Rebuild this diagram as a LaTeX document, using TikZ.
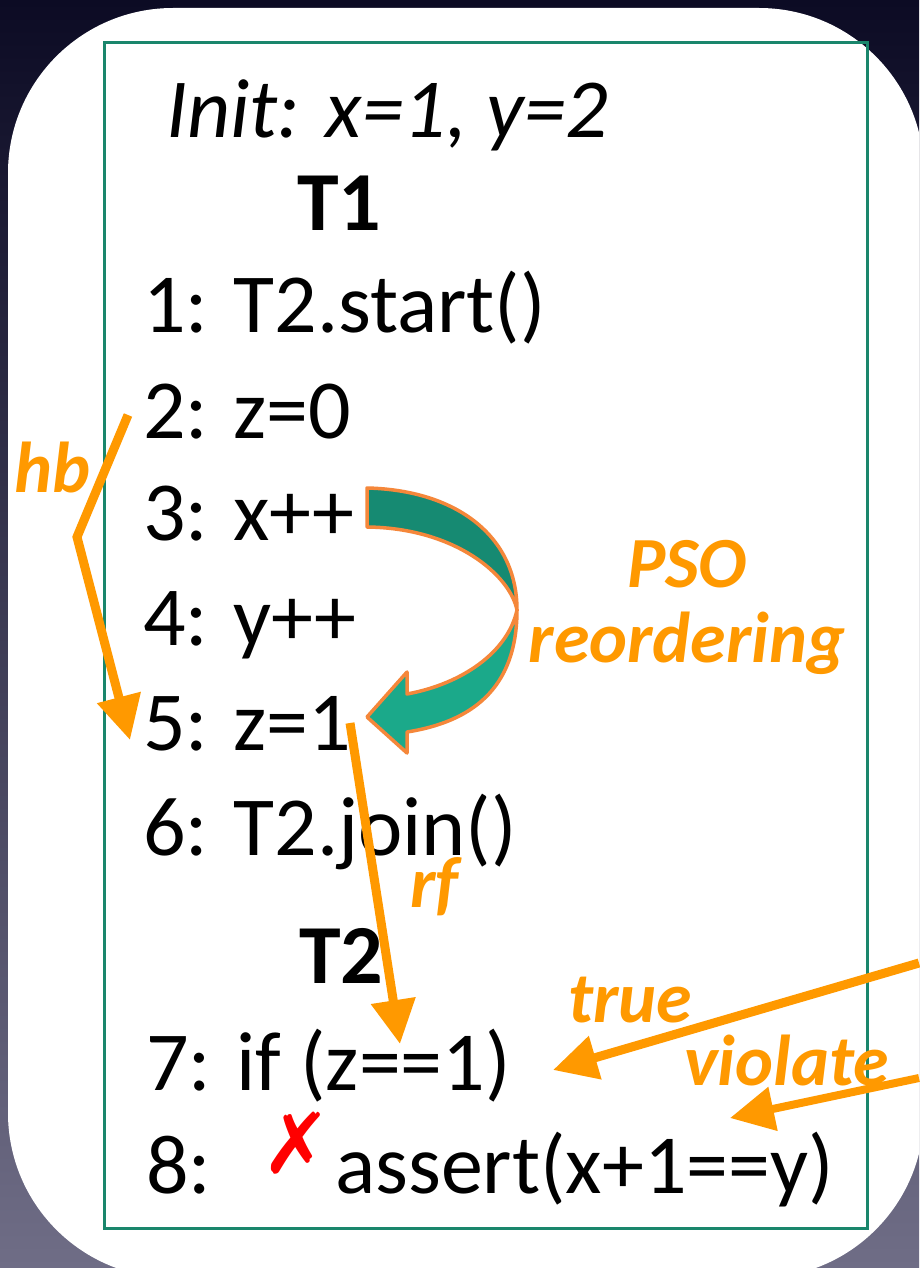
\documentclass[tikz,border=0pt]{standalone}
\usepackage{fontspec}
\setmainfont{Carlito}
\newfontfamily\crossfont{DejaVu Sans}
\usetikzlibrary{arrows.meta, calc}
\definecolor{slidetop}{RGB}{12,11,36}
\definecolor{slidebot}{RGB}{111,109,134}
\definecolor{framegreen}{RGB}{26,134,108}
\definecolor{hborange}{RGB}{255,153,0}
\definecolor{psodark}{RGB}{22,138,114}
\definecolor{psolight}{RGB}{27,169,138}
\definecolor{psoedge}{RGB}{245,135,58}

\begin{document}
\begin{tikzpicture}[
    x=1pt, y=-1pt,
    code/.style={anchor=base west, inner sep=0pt, font=\fontsize{84}{100}\selectfont},
    thread/.style={anchor=base west, inner sep=0pt, font=\fontsize{84}{100}\selectfont\bfseries},
    lbl/.style={anchor=base west, inner sep=0pt, text=hborange, font=\fontsize{72}{86}\selectfont\bfseries\itshape},
    arrow/.style={hborange, line width=9pt, -{Triangle[length=44pt, width=43pt]}},
    band/.style={draw=psoedge, line width=3.5pt, line join=round},
]
\useasboundingbox (0,0) rectangle (919,1268);

% --- Slide background and card
\begin{scope}
\clip (0,0) rectangle (919,1268);
\shade[top color=slidetop, bottom color=slidebot] (0,0) rectangle (919,1268);
\fill[white, rounded corners=165pt] (8,8) rectangle (924,1278);
\end{scope}
\draw[framegreen, line width=3pt] (104,43) rectangle (867,1228);

% --- Program text
\node[code] (init) at (166,138) {\itshape Init: x=1, y=2};
\node[thread] (t1) at (297,230) {T1};
\node[code] (l1) at (143,332) {1: T2.start()};
\node[code] (l2) at (143,438) {2: z=0};
\node[code] (l3) at (143,540) {3: x++};
\node[code] (l4) at (143,645) {4: y++};
\node[code] (l5) at (143,750) {5: z=1};
\node[code] (l6) at (143,855) {6: T2.join()};
\node[thread] (t2) at (299,983) {T2};
\node[code] (l7) at (146,1090) {7: if (z==1)};
\node[code] (l8) at (146,1193) {8:};
\node[code] (l8b) at (335,1193) {assert(x+1==y)};
\node[inner sep=0pt, text=red, font=\fontsize{84}{90}\selectfont\crossfont] (cross) at (297,1143) {✗};

% --- PSO reordering (folded block arrow)
\filldraw[band, fill=psolight] (517,610) .. controls (517,690) and (470,722) .. (407,732)
    -- (407,753) -- (367,717) -- (407,672) -- (407,694)
    .. controls (462,684) and (508,652) .. (517,610) -- cycle;
\filldraw[band, fill=psodark] (367,488) .. controls (455,490) and (517,535) .. (517,610)
    .. controls (510,575) and (455,528) .. (367,527) -- cycle;

% --- Edges
\coordinate (hbbend) at (77,537);
\coordinate (truetail) at (919,963);
\coordinate (violtail) at (919,1078);
\draw[arrow, line join=miter] ($(l2.base west)+(-15,-23)$) -- (hbbend) -- ($(l5.base west)+(-13,-10)$);
\draw[arrow] ($(l5.base west)+(207,-27)$) -- ($(l7.base west)+(254,-46)$);
\draw[arrow] (truetail) -- ($(l7.base west)+(407,-20)$);
\draw[arrow, line width=8pt] (violtail) -- ($(l8b.base west)+(395,-75)$);

% --- Labels
\node[lbl] (hb) at (14,492) {hb};
\node[lbl, anchor=base] (pso) at (687,587) {PSO};
\node[lbl, anchor=base] (reord) at (687,662) {reordering};
\node[lbl] (rf) at (410,907) {rf};
\node[lbl] (true) at (568,1022) {true};
\node[lbl] (viol) at (684,1085) {violate};

\end{tikzpicture}
\end{document}
